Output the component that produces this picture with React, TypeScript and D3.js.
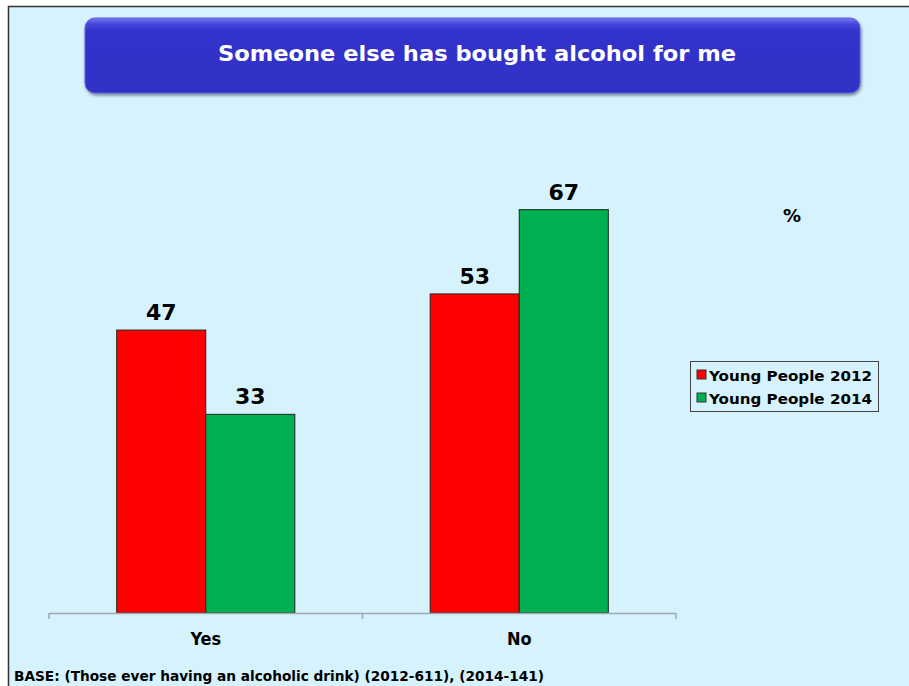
import React from "react";
import * as d3 from "d3";

const categories = ["Yes", "No"];
const seriesNames = ["Young People 2012", "Young People 2014"];
const values2012 = [47, 53];
const values2014 = [33, 67];
const seriesColors = ["#FF0000", "#00B050"];
const titleText = "Someone else has bought alcohol for me";
const baseText = "BASE: (Those ever having an alcoholic drink) (2012-611), (2014-141)";
const unitText = "%";

const W = 909;
const H = 686;

export default function App() {
  const plotLeft = 49;
  const plotRight = 676;
  const baseY = 613;

  const x0 = d3.scaleBand<string>().domain(categories).range([plotLeft, plotRight]).paddingInner(0).paddingOuter(0);
  const x1 = d3.scaleBand<string>().domain(seriesNames).range([0, x0.bandwidth()]).paddingInner(0).paddingOuter(0.76);
  const y = d3.scaleLinear().domain([0, 100]).range([baseY, 11]);

  const series = [values2012, values2014];

  const condensed = "'DejaVu Sans Condensed', 'DejaVu Sans', sans-serif";
  const wide = "'DejaVu Sans', Verdana, sans-serif";

  return (
    <svg width={W} height={H} style={{ position: "absolute", left: 0, top: 0 }}>
      <defs>
        <linearGradient id="titleGrad" x1="0" y1="0" x2="0" y2="1">
          <stop offset="0" stopColor="#7A7AF0" />
          <stop offset="0.08" stopColor="#4646DC" />
          <stop offset="0.18" stopColor="#3333CC" />
          <stop offset="1" stopColor="#3030C6" />
        </linearGradient>
        <filter id="shadow" x="-5%" y="-20%" width="110%" height="150%">
          <feDropShadow dx="1" dy="2" stdDeviation="1.5" floodColor="#000" floodOpacity="0.45" />
        </filter>
      </defs>
      <rect x={0} y={0} width={W} height={H} fill="#FFFFFF" />
      <rect x={8} y={6} width={W - 8} height={H - 6} fill="#D5F2FD" />
      <line x1={8.5} y1={6} x2={8.5} y2={H} stroke="#333" strokeWidth={1.5} />
      <line x1={8} y1={6.5} x2={W} y2={6.5} stroke="#333" strokeWidth={1.5} />

      {/* title box */}
      <rect x={85} y={18} width={775} height={75} rx={10} ry={10} fill="url(#titleGrad)" stroke="#5A5AE6" strokeWidth={1} filter="url(#shadow)" />
      <text x={477} y={61} textAnchor="middle" fill="#FFFFFF" fontFamily={condensed} fontWeight="bold" fontSize={22} textLength={518} lengthAdjust="spacingAndGlyphs">
        {titleText}
      </text>

      {/* bars */}
      {categories.map((c, ci) => (
        <g key={c} transform={`translate(${x0(c)},0)`}>
          {seriesNames.map((s, si) => {
            const v = series[si][ci];
            const bx = x1(s)!;
            return (
              <g key={s}>
                <rect x={bx} y={y(v)} width={x1.bandwidth()} height={baseY - y(v)} fill={seriesColors[si]} stroke="#222" strokeWidth={1} />
                <text x={bx + x1.bandwidth() / 2} y={y(v) - 10} textAnchor="middle" fontFamily={wide} fontWeight="bold" fontSize={22} fill="#000">
                  {v}
                </text>
              </g>
            );
          })}
        </g>
      ))}

      {/* axis */}
      <line x1={plotLeft} y1={baseY + 0.5} x2={plotRight} y2={baseY + 0.5} stroke="#A0A8B0" strokeWidth={1.5} />
      {[plotLeft, ...categories.map((c) => x0(c)! + x0.bandwidth())].map((t, i) => (
        <line key={i} x1={t} y1={baseY} x2={t} y2={baseY + 6} stroke="#A0A8B0" strokeWidth={1.5} />
      ))}
      {categories.map((c) => (
        <text key={c} x={x0(c)! + x0.bandwidth() / 2} y={645} textAnchor="middle" fontFamily={condensed} fontWeight="bold" fontSize={18} fill="#000">
          {c}
        </text>
      ))}

      {/* unit */}
      <text x={792} y={222} textAnchor="middle" fontFamily={wide} fontWeight="bold" fontSize={18} fill="#000">
        {unitText}
      </text>

      {/* legend */}
      <rect x={690.5} y={361.5} width={188} height={50} fill="#D5F2FD" stroke="#444" strokeWidth={1} />
      {seriesNames.map((s, i) => (
        <g key={s} transform={`translate(697,${370 + i * 23})`}>
          <rect x={0} y={0} width={9} height={9} fill={seriesColors[i]} stroke="#333" strokeWidth={1} />
          <text x={12} y={10.5} fontFamily={wide} fontWeight="bold" fontSize={14.5} fill="#000" textLength={163} lengthAdjust="spacingAndGlyphs">
            {s}
          </text>
        </g>
      ))}

      {/* base note */}
      <text x={14} y={681} fontFamily={condensed} fontWeight="bold" fontSize={14} fill="#000" textLength={530} lengthAdjust="spacingAndGlyphs">
        {baseText}
      </text>
    </svg>
  );
}
